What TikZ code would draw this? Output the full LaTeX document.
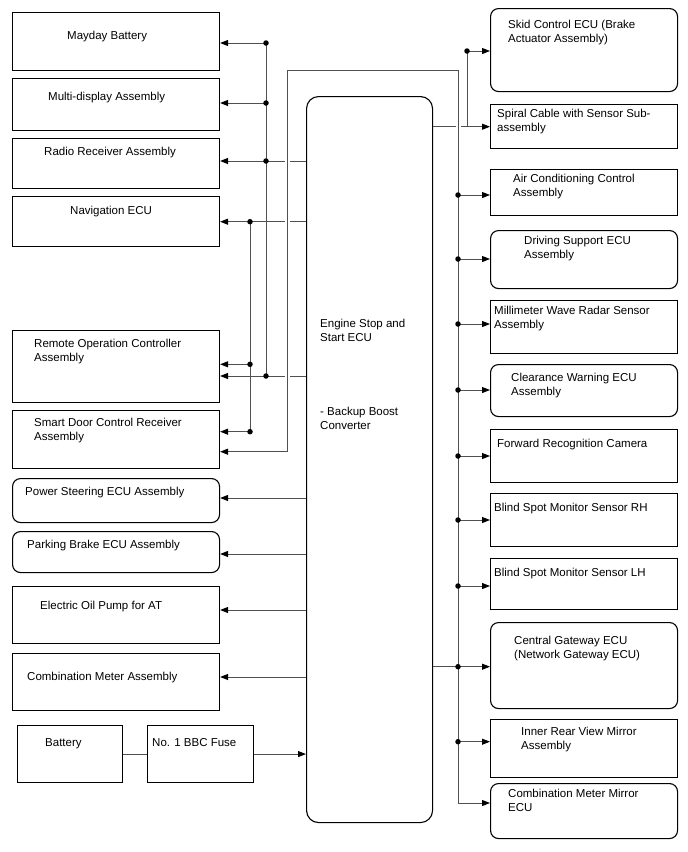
\documentclass[tikz,border=0pt]{standalone}
\usepackage{fontspec}
\setmainfont{Liberation Sans}
\usetikzlibrary{arrows.meta}
\definecolor{wireColor}{HTML}{505050}

\tikzset{
  unit/.style={draw=black, line width=1.1pt, anchor=north west, inner sep=0pt},
  unitR/.style={unit, rounded corners=8pt},
  lbl/.style={anchor=north west, inner sep=0pt, align=left, font=\fontsize{11.5}{14.5}\selectfont},
  wire/.style={draw=wireColor, line width=1pt},
  tip/.tip={Triangle[length=8pt,width=6pt,black]},
  arr/.style={-tip},
  dot/.style={circle, fill=black, inner sep=0pt, minimum size=5.5pt},
  gap/.style={preaction={draw=white, line width=5pt, -, shorten <=4pt, shorten >=4pt}},
}

\begin{document}
\begin{tikzpicture}[x=1pt, y=-1pt]
\useasboundingbox (0,0) rectangle (688,852);

% left units
\node[unit, minimum width=207, minimum height=58] (may) at (12,12) {};
\node[unit, minimum width=207, minimum height=52] (mda) at (12,78) {};
\node[unit, minimum width=207, minimum height=50] (radio) at (12,138) {};
\node[unit, minimum width=207, minimum height=50] (navi) at (12,196) {};
\node[unit, minimum width=207, minimum height=72] (remote) at (12,330) {};
\node[unit, minimum width=207, minimum height=58] (smart) at (12,410) {};
\node[unitR, minimum width=207, minimum height=44] (pwr) at (12,478) {};
\node[unitR, minimum width=207, minimum height=41] (park) at (12,531) {};
\node[unit, minimum width=207, minimum height=57] (oil) at (12,586) {};
\node[unit, minimum width=207, minimum height=57] (cmtr) at (12,653) {};
\node[unit, minimum width=105, minimum height=57] (bat) at (17,725) {};
\node[unit, minimum width=106, minimum height=57] (fuse) at (147,725) {};

\node[lbl] (mayT) at (67,30.5) {Mayday Battery};
\node[lbl] (mdaT) at (48,91.5) {Multi-display Assembly};
\node[lbl] (radioT) at (44,146.5) {Radio Receiver Assembly};
\node[lbl] (naviT) at (70,205.5) {Navigation ECU};
\node[lbl] (remoteT) at (34,338.5) {Remote Operation Controller\\Assembly};
\node[lbl] (smartT) at (34,417.5) {Smart Door Control Receiver\\Assembly};
\node[lbl] (pwrT) at (25,486.5) {Power Steering ECU Assembly};
\node[lbl] (parkT) at (27,539.5) {Parking Brake ECU Assembly};
\node[lbl] (oilT) at (40,600.5) {Electric Oil Pump for AT};
\node[lbl] (cmtrT) at (27,671.5) {Combination Meter Assembly};
\node[lbl] (batT) at (45,738.5) {Battery};
\node[lbl] (fuseT) at (152,738.5) {No. 1 BBC Fuse};

% main ECU
\node[unit, rounded corners=12pt, minimum width=126, minimum height=726] (ecu) at (306,96) {};
\node[lbl] (ecuT) at (320,318.5) {Engine Stop and\\Start ECU};
\node[lbl] (ecuT2) at (320,406.5) {- Backup Boost\\Converter};

% right units
\node[unitR, minimum width=187, minimum height=83] (skid) at (490,8) {};
\node[unit, minimum width=187, minimum height=44] (spiral) at (490,104) {};
\node[unit, minimum width=187, minimum height=46] (aircon) at (490,169) {};
\node[unitR, minimum width=187, minimum height=58] (drive) at (490,230) {};
\node[unit, minimum width=187, minimum height=53] (mmw) at (490,300) {};
\node[unitR, minimum width=187, minimum height=52] (clear) at (490,364) {};
\node[unit, minimum width=187, minimum height=53] (fwd) at (490,429) {};
\node[unit, minimum width=187, minimum height=53] (bsmR) at (490,493) {};
\node[unit, minimum width=187, minimum height=51] (bsmL) at (490,558) {};
\node[unitR, minimum width=187, minimum height=86] (cgw) at (490,622) {};
\node[unit, minimum width=187, minimum height=58] (irvm) at (490,719) {};
\node[unitR, minimum width=187, minimum height=55] (cmm) at (490,783) {};

\node[lbl] (skidT) at (508,19.5) {Skid Control ECU (Brake\\Actuator Assembly)};
\node[lbl] (spiralT) at (497,108.5) {Spiral Cable with Sensor Sub-\\assembly};
\node[lbl] (airconT) at (513,173.5) {Air Conditioning Control\\Assembly};
\node[lbl] (driveT) at (524,235.5) {Driving Support ECU\\Assembly};
\node[lbl] (mmwT) at (494,305.5) {Millimeter Wave Radar Sensor\\Assembly};
\node[lbl] (clearT) at (511,372.5) {Clearance Warning ECU\\Assembly};
\node[lbl] (fwdT) at (497,438.5) {Forward Recognition Camera};
\node[lbl] (bsmRT) at (494,502.5) {Blind Spot Monitor Sensor RH};
\node[lbl] (bsmLT) at (494,567.5) {Blind Spot Monitor Sensor LH};
\node[lbl] (cgwT) at (514,635.5) {Central Gateway ECU\\(Network Gateway ECU)};
\node[lbl] (irvmT) at (521,726.5) {Inner Rear View Mirror\\Assembly};
\node[lbl] (cmmT) at (508,788.5) {Combination Meter Mirror\\ECU};

% bus points
\coordinate (a1) at (266,43);
\coordinate (a2) at (266,103);
\coordinate (a3) at (266,161);
\coordinate (a4) at (266,376);
\coordinate (b1) at (250,221.7);
\coordinate (b2) at (250,364.3);
\coordinate (b3) at (250,431.7);
\coordinate (c1) at (287,451.7);
\coordinate (c2) at (287,70);
\coordinate (c3) at (458,70);
\coordinate (c4) at (458,803);
\coordinate (k1) at (467,51);
\coordinate (k2) at (467,126.7);
\coordinate (r1) at (458,195);
\coordinate (r2) at (458,259);
\coordinate (r3) at (458,324);
\coordinate (r4) at (458,390);
\coordinate (r5) at (458,456);
\coordinate (r6) at (458,520);
\coordinate (r7) at (458,586);
\coordinate (r8) at (458,666.7);
\coordinate (r9) at (458,741.7);

% lines crossed by the outer loop
\draw[wire] (ecu.west |- a3) -- (a3);
\draw[wire] (ecu.west |- b1) -- (b1);
\draw[wire] (ecu.west |- a4) -- (a4);
\draw[wire, arr] (ecu.east |- k2) -- (spiral.west |- k2);

% outer loop
\draw[wire, gap, tip-tip]
  (smart.east |- c1) -- (c1) -- (c2) -- (c3) -- (c4) -- (cmm.west |- c4);

% left buses
\draw[wire] (a1) -- (a4);
\draw[wire] (b1) -- (b3);
\draw[wire, arr] (a1) -- (may.east |- a1);
\draw[wire, arr] (a2) -- (mda.east |- a2);
\draw[wire, arr] (a3) -- (radio.east |- a3);
\draw[wire, arr] (b1) -- (navi.east |- b1);
\draw[wire, arr] (b2) -- (remote.east |- b2);
\draw[wire, arr] (a4) -- (remote.east |- a4);
\draw[wire, arr] (b3) -- (smart.east |- b3);

% direct outputs
\draw[wire, arr] (ecu.west |- 0,498) -- (pwr.east |- 0,498);
\draw[wire, arr] (ecu.west |- 0,554) -- (park.east |- 0,554);
\draw[wire, arr] (ecu.west |- 0,610) -- (oil.east |- 0,610);
\draw[wire, arr] (ecu.west |- 0,677) -- (cmtr.east |- 0,677);
\draw[wire] (bat) -- (fuse);
\draw[wire, arr] (fuse.east) -- (ecu.west |- fuse.east);

% right buses
\draw[wire] (k1) -- (k2);
\draw[wire, arr] (k1) -- (skid.west |- k1);
\draw[wire] (ecu.east |- r8) -- (r8);
\draw[wire, arr] (r1) -- (aircon.west |- r1);
\draw[wire, arr] (r2) -- (drive.west |- r2);
\draw[wire, arr] (r3) -- (mmw.west |- r3);
\draw[wire, arr] (r4) -- (clear.west |- r4);
\draw[wire, arr] (r5) -- (fwd.west |- r5);
\draw[wire, arr] (r6) -- (bsmR.west |- r6);
\draw[wire, arr] (r7) -- (bsmL.west |- r7);
\draw[wire, arr] (r8) -- (cgw.west |- r8);
\draw[wire, arr] (r9) -- (irvm.west |- r9);

% junction dots
\foreach \p in {a1,a2,a3,a4,b1,b2,b3,k1,r1,r2,r3,r4,r5,r6,r7,r8,r9}
  \node[dot] (d\p) at (\p) {};
\end{tikzpicture}
\end{document}
